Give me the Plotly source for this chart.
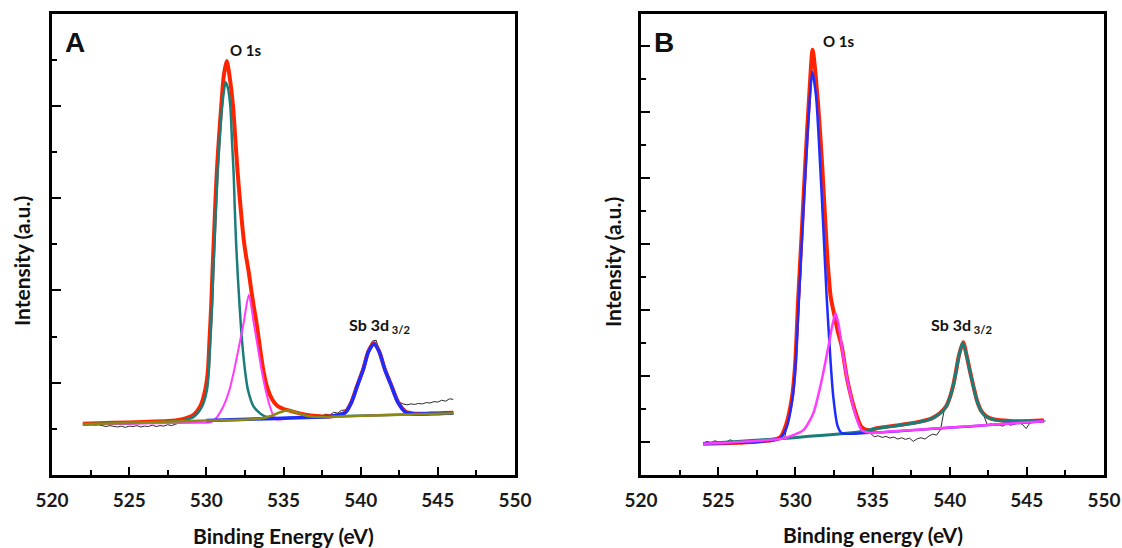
import plotly.graph_objects as go

# ---------------- Panel A data (binding energy eV, intensity a.u.) ----------------
raw_a_start = 522.0
raw_a_step = 0.25
raw_a_y = [1.10, 1.09, 1.10, 1.08, 1.09, 1.07, 1.05, 1.07, 1.06, 1.04, 1.06, 1.03,
           1.06, 1.05, 1.07, 1.04, 1.06, 1.05, 1.08, 1.05, 1.07, 1.06, 1.09, 1.07,
           1.10, 1.13, 1.19, 1.22, 1.27, 1.33, 1.42, 1.55, 1.88, 2.88, 4.85, 6.65,
           8.00, 8.85, 8.72, 7.90, 6.60, 5.70, 4.95, 4.40, 3.80, 3.30, 2.72, 2.18,
           1.84, 1.66, 1.52, 1.47, 1.44, 1.41, 1.38, 1.36, 1.33, 1.30, 1.27, 1.29,
           1.27, 1.30, 1.28, 1.32, 1.30, 1.36, 1.34, 1.40, 1.41, 1.50, 1.65, 1.92,
           2.18, 2.45, 2.72, 2.90, 2.92, 2.66, 2.38, 2.12, 1.92, 1.72, 1.58, 1.54,
           1.52, 1.54, 1.53, 1.55, 1.54, 1.57, 1.56, 1.59, 1.58, 1.62, 1.60, 1.65, 1.64]

env_a_x = [522, 524, 526, 527.5, 528.3, 529.15, 529.65, 529.95, 530.10, 530.21,
           530.32, 530.40, 530.49, 530.58, 530.68, 530.82, 530.99, 531.13, 531.32, 531.5,
           531.73, 531.88, 532.03, 532.21, 532.42, 532.57, 532.75, 532.90, 533.07, 533.25,
           533.40, 533.55, 533.72, 533.98, 534.26, 534.59, 535.02, 535.45, 536.10, 536.75,
           537.5, 538.3, 538.8, 539.03, 539.4, 539.78, 540.17, 540.5, 540.86, 541.2,
           541.56, 541.99, 542.42, 542.92, 543.5, 544.5, 546]
env_a_y = [1.11, 1.13, 1.15, 1.17, 1.20, 1.30, 1.52, 1.88, 2.25, 2.96,
           3.70, 4.42, 5.14, 5.86, 6.58, 7.32, 8.10, 8.65, 8.97, 8.65,
           7.99, 7.27, 6.55, 5.83, 5.11, 4.75, 4.39, 4.03, 3.66, 3.30,
           2.94, 2.58, 2.22, 1.86, 1.64, 1.50, 1.43, 1.39, 1.33, 1.29,
           1.27, 1.28, 1.32, 1.37, 1.58, 1.94, 2.30, 2.68, 2.86, 2.68,
           2.30, 1.94, 1.58, 1.37, 1.33, 1.33, 1.35]

teal_a_x = [522, 526, 528.3, 529.18, 529.72, 530.04, 530.15, 530.26, 530.37, 530.45,
            530.54, 530.63, 530.73, 530.86, 531.02, 531.25, 531.40, 531.56, 531.66, 531.77,
            531.84, 531.92, 532.03, 532.16, 532.31, 532.53, 532.70, 533.07, 533.72, 534.59,
            536, 546]
teal_a_y = [1.10, 1.13, 1.17, 1.26, 1.48, 1.84, 2.20, 2.92, 3.64, 4.37,
            5.09, 5.81, 6.53, 7.25, 7.97, 8.51, 8.38, 7.97, 7.25, 6.53,
            5.81, 5.09, 4.37, 3.64, 2.92, 2.20, 1.84, 1.48, 1.28, 1.23,
            1.25, 1.34]

mag_a_x = [522, 529.5, 530.26, 530.58, 531.12, 531.51, 531.77, 532.21, 532.42, 532.75,
           533.07, 533.25, 533.61, 533.83, 534.11, 534.48, 535.2, 536, 546]
mag_a_y = [1.10, 1.13, 1.14, 1.21, 1.50, 1.86, 2.22, 2.94, 3.30, 3.90,
           3.30, 2.94, 2.22, 1.86, 1.50, 1.21, 1.22, 1.24, 1.34]

olive_a_x = [522, 530, 533, 533.8, 534.2, 534.7, 535.2, 535.7, 536.3, 537.0, 538, 546]
olive_a_y = [1.10, 1.18, 1.21, 1.24, 1.28, 1.35, 1.40, 1.37, 1.30, 1.26, 1.26, 1.34]

blue_a_x = [530, 534, 537, 538, 538.5, 539.03, 539.40, 539.78, 540.17, 540.5,
            540.86, 541.2, 541.56, 541.99, 542.42, 542.92, 543.5, 544.5, 546]
blue_a_y = [1.18, 1.22, 1.25, 1.27, 1.30, 1.36, 1.57, 1.93, 2.29, 2.67,
            2.84, 2.67, 2.29, 1.93, 1.57, 1.36, 1.32, 1.33, 1.34]

# ---------------- Panel B data ----------------
raw_b_start = 524.03
raw_b_step = 0.2521
raw_b_y = [0.96, 1.02, 0.97, 1.04, 1.00, 0.95, 1.01, 1.07, 1.00, 0.97, 0.94, 1.00,
           1.02, 0.97, 1.03, 1.08, 1.05, 1.00, 1.09, 1.04, 1.12, 1.16, 1.75, 2.45,
           3.70, 5.90, 8.60, 11.20, 12.80, 12.20, 10.40, 8.40, 6.40, 5.20, 4.75, 4.15,
           3.55, 2.90, 2.35, 1.90, 1.55, 1.38, 1.30, 1.26, 1.16, 1.19, 1.14, 1.17,
           1.12, 1.15, 1.09, 1.13, 1.08, 1.12, 1.02, 1.10, 1.13, 1.09, 1.18, 1.24,
           1.21, 1.38, 2.00, 2.30, 2.64, 3.12, 3.75, 4.05, 3.50, 2.88, 2.42, 2.05,
           1.85, 1.52, 1.55, 1.50, 1.53, 1.48, 1.56, 1.51, 1.55, 1.58, 1.54, 1.41,
           1.58, 1.60, 1.67, 1.63, 1.64]

env_b_x = [524.03, 528.98, 529.38, 529.78, 529.98, 530.18, 530.42, 530.65, 530.91, 531.12,
           531.43, 531.73, 531.97, 532.10, 532.29, 532.50, 532.73, 533.01, 533.37, 533.92,
           534.30, 534.78, 535.28, 536.79, 538.08, 538.84, 539.38, 539.77, 540.03, 540.24,
           540.41, 540.59, 540.87, 541.11, 541.32, 541.54, 541.79, 542.08, 542.41, 542.83,
           543.91, 545.86, 546.1]
env_b_y = [0.95, 1.13, 1.50, 2.35, 3.30, 5.30, 7.40, 9.50, 11.60, 12.90,
           11.50, 9.47, 7.44, 6.43, 5.41, 4.91, 4.40, 3.89, 2.88, 1.87,
           1.45, 1.36, 1.42, 1.52, 1.62, 1.72, 1.88, 2.08, 2.38, 2.74,
           3.14, 3.60, 4.03, 3.60, 3.14, 2.69, 2.23, 1.92, 1.77, 1.69,
           1.64, 1.65, 1.66]

blue_b_x = [524.03, 529.01, 529.44, 529.83, 530.02, 530.24, 530.46, 530.69, 530.95, 531.10,
            531.34, 531.60, 531.82, 532.03, 532.29, 532.46, 532.73, 533.01, 534.12, 546.1]
blue_b_y = [0.95, 1.12, 1.45, 2.37, 3.39, 5.41, 7.44, 9.47, 11.50, 12.23,
            11.50, 9.47, 7.44, 5.41, 3.39, 2.37, 1.50, 1.27, 1.26, 1.63]

mag_b_x = [524.03, 529.08, 529.87, 530.52, 531.16, 531.71, 532.14, 532.40, 532.61, 532.81,
           533.01, 533.37, 533.87, 534.30, 534.82, 536.13, 546.1]
mag_b_y = [0.95, 1.10, 1.21, 1.36, 1.87, 2.88, 3.89, 4.55, 4.91, 4.55,
           3.89, 2.88, 1.87, 1.36, 1.28, 1.32, 1.63]

teal_b_x = [524.03, 530.08, 534.19, 535.28, 536.79, 538.08, 538.84, 539.38, 539.77, 540.03,
            540.24, 540.41, 540.59, 540.84, 541.11, 541.32, 541.54, 541.79, 542.08, 542.41,
            542.83, 543.91, 545.86, 546.1]
teal_b_y = [0.95, 1.14, 1.31, 1.41, 1.51, 1.61, 1.71, 1.87, 2.07, 2.37,
            2.73, 3.13, 3.59, 4.01, 3.59, 3.13, 2.68, 2.22, 1.91, 1.76,
            1.68, 1.63, 1.64, 1.65]

raw_a_x = [raw_a_start + raw_a_step * i for i in range(len(raw_a_y))]
raw_b_x = [raw_b_start + raw_b_step * i for i in range(len(raw_b_y))]

RED = "#ff2400"
TEAL = "#1b7d7a"
MAG = "#ff3cff"
OLIVE = "#8a8a12"
BLUE = "#1f2cff"
RAW = "#2b2b2b"

fig = go.Figure()


def add(x, y, color, width, xa, ya, spline=True):
    fig.add_trace(go.Scatter(
        x=x, y=y, mode="lines", xaxis=xa, yaxis=ya, showlegend=False,
        hoverinfo="skip",
        line=dict(color=color, width=width,
                  shape="spline" if spline else "linear", smoothing=0.7)))


# Panel A
add(raw_a_x, raw_a_y, RAW, 1, "x", "y", spline=False)
add(env_a_x, env_a_y, RED, 4, "x", "y")
add(teal_a_x, teal_a_y, TEAL, 2.5, "x", "y")
add(mag_a_x, mag_a_y, MAG, 2, "x", "y")
add(blue_a_x, blue_a_y, BLUE, 3.5, "x", "y")
add(olive_a_x, olive_a_y, OLIVE, 2.5, "x", "y")

# Panel B
add(raw_b_x, raw_b_y, RAW, 1, "x2", "y2", spline=False)
add(env_b_x, env_b_y, RED, 4, "x2", "y2")
add(teal_b_x, teal_b_y, TEAL, 3, "x2", "y2")
add(blue_b_x, blue_b_y, BLUE, 2.5, "x2", "y2")
add(mag_b_x, mag_b_y, MAG, 2.5, "x2", "y2")

W, H = 1122, 548
xdomA = [52 / W, 515 / W]
xdomB = [641 / W, 1104 / W]
ydom = [(H - 475) / H, (H - 13.5) / H]

LABEL_FONT = "Lato, 'Open Sans', sans-serif"

xcommon = dict(range=[520, 550], tickmode="linear", tick0=520, dtick=5,
               ticks="inside", ticklen=8, tickwidth=2, tickcolor="black",
               minor=dict(ticks="inside", dtick=2.5, ticklen=5, tickwidth=2, tickcolor="black"),
               showline=True, linewidth=2.5, linecolor="black", mirror=True,
               showgrid=False, zeroline=False, ticklabelstandoff=6, automargin=False,
               ticklabeloverflow="allow",
               tickfont=dict(family=LABEL_FONT, size=19, color="#1a1a1a", weight="bold"))
ycommon = dict(tickmode="linear", dtick=2, ticks="inside", ticklen=9, tickwidth=2,
               tickcolor="black", showticklabels=False, automargin=False,
               showline=True, linewidth=2.5, linecolor="black", mirror=True,
               showgrid=False, zeroline=False)

fig.update_layout(
    width=W, height=H, margin=dict(l=0, r=0, t=0, b=0, pad=0, autoexpand=False),
    paper_bgcolor="white", plot_bgcolor="white",
    xaxis=dict(domain=xdomA, anchor="y", **xcommon),
    xaxis2=dict(domain=xdomB, anchor="y2", **xcommon),
    yaxis=dict(domain=ydom, anchor="x", range=[0, 10], tick0=0,
               minor=dict(ticks="inside", dtick=1, ticklen=5, tickwidth=2, tickcolor="black"),
               **ycommon),
    yaxis2=dict(domain=ydom, anchor="x2", range=[0, 14], tick0=1,
                minor=dict(ticks="inside", dtick=1, ticklen=5, tickwidth=2, tickcolor="black"),
                **ycommon),
)


def note(text, x, y, size, angle=0, family=LABEL_FONT):
    fig.add_annotation(text=text, x=x, y=y, xref="paper", yref="paper",
                       xanchor="center", yanchor="middle", showarrow=False,
                       textangle=angle,
                       font=dict(family=family, size=size, color="#111111", weight="bold"))


note("A", 75 / W, (H - 42.5) / H, 28, family="'Liberation Sans', Arial, sans-serif")
note("B", 664 / W, (H - 42.5) / H, 28, family="'Liberation Sans', Arial, sans-serif")
note("O 1s", 245 / W, (H - 50) / H, 15)
note("O 1s", 838 / W, (H - 41) / H, 15)
note("Sb 3d<sub> 3/2</sub>", 379.5 / W, (H - 325) / H, 16)
note("Sb 3d<sub> 3/2</sub>", 961.5 / W, (H - 325) / H, 16)
note("Intensity (a.u.)", 22 / W, (H - 261) / H, 21, angle=-90)
note("Intensity (a.u.)", 612 / W, (H - 262) / H, 21, angle=-90)
note("Binding Energy (eV)", 283 / W, (H - 535) / H, 21)
note("Binding energy (eV)", 873 / W, (H - 534) / H, 21)

fig.write_html("out.html", config={"responsive": False, "displayModeBar": False},
               post_script="document.body.style.margin='0';document.body.style.overflow='hidden';")
